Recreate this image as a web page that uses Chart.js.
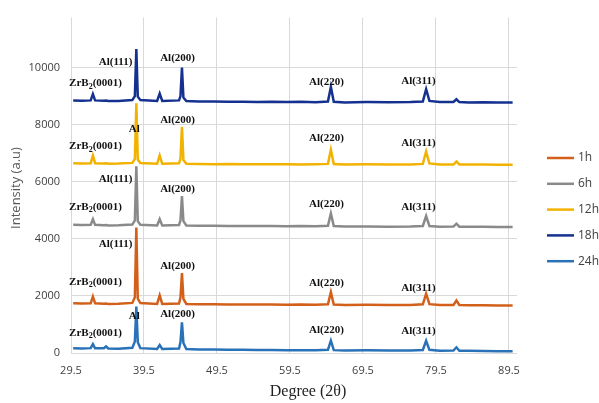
<!DOCTYPE html>
<html>
<head>
<meta charset="utf-8">
<script src="https://cdn.jsdelivr.net/npm/chart.js@4.4.1/dist/chart.umd.min.js"></script>
<style>
  body { margin: 0; background: #fff; }
  canvas { display: block; }
</style>
</head>
<body>
<canvas id="xrdChart" width="599" height="403"></canvas>
<script>
// 2θ positions shared by every pattern
const degrees = [29.8, 31, 32.2, 32.5, 32.8, 34, 34.3, 34.6, 36, 37.9,
  38.25, 38.45, 38.65, 39.0, 41.3, 41.65, 42.0, 44.3, 44.5, 44.7,
  44.9, 45.3, 47, 49, 51, 53, 55, 57, 59, 61,
  63, 64.7, 65.1, 65.5, 67, 70, 73, 76, 77.7, 78.15,
  78.6, 80, 81.9, 82.3, 82.7, 84, 86, 88, 90];

const intensity1h = [1740, 1730, 1740, 1980, 1740, 1725, 1735, 1720, 1725, 1755,
  1950, 4400, 1900, 1750, 1720, 2020, 1720, 1735, 1950, 2800,
  1900, 1720, 1710, 1705, 1700, 1702, 1695, 1700, 1690, 1695,
  1688, 1710, 2130, 1700, 1685, 1690, 1680, 1685, 1705, 2080,
  1710, 1680, 1685, 1840, 1680, 1672, 1675, 1665, 1665];
const intensity6h = [4490, 4485, 4490, 4690, 4490, 4475, 4485, 4470, 4475, 4500,
  4650, 6540, 4620, 4495, 4470, 4690, 4470, 4485, 4650, 5500,
  4620, 4470, 4460, 4455, 4450, 4452, 4445, 4448, 4440, 4445,
  4438, 4455, 4890, 4445, 4430, 4435, 4425, 4430, 4450, 4800,
  4450, 4425, 4428, 4530, 4425, 4420, 4422, 4415, 4415];
const intensity12h = [6645, 6640, 6650, 6920, 6650, 6635, 6645, 6630, 6635, 6660,
  6800, 8750, 6780, 6655, 6630, 6920, 6630, 6645, 6800, 7920,
  6760, 6630, 6620, 6615, 6620, 6610, 6615, 6610, 6612, 6605,
  6615, 6625, 7120, 6620, 6605, 6610, 6600, 6605, 6625, 7060,
  6640, 6605, 6600, 6710, 6605, 6600, 6602, 6595, 6595];
const intensity18h = [8850, 8840, 8850, 9070, 8850, 8835, 8845, 8830, 8830, 8860,
  9000, 10650, 8980, 8860, 8830, 9090, 8830, 8850, 9000, 10000,
  8950, 8830, 8815, 8810, 8800, 8805, 8795, 8800, 8790, 8800,
  8785, 8810, 9320, 8800, 8780, 8790, 8785, 8790, 8810, 9240,
  8830, 8790, 8795, 8890, 8790, 8780, 8785, 8775, 8775];
const intensity24h = [170, 160, 170, 310, 165, 170, 230, 160, 150, 180,
  400, 1630, 380, 170, 140, 280, 140, 160, 380, 1070,
  350, 140, 125, 120, 110, 112, 105, 108, 95, 100,
  92, 110, 430, 100, 90, 92, 85, 88, 105, 430,
  110, 82, 85, 200, 80, 75, 72, 65, 65];

const seriesNames = ["1h", "6h", "12h", "18h", "24h"];
const seriesValues = [intensity1h, intensity6h, intensity12h, intensity18h, intensity24h];
const seriesColors = ["#D2601A", "#8A8A8A", "#F2B200", "#14318F", "#2A72B8"];

const degreeTicks = [29.5, 39.5, 49.5, 59.5, 69.5, 79.5, 89.5];
const intensityTicks = [0, 2000, 4000, 6000, 8000, 10000];

// peak annotations: text, 2θ of label centre, intensity of label centre
const labelText = [
  "ZrB2(0001)", "Al(111)", "Al(200)", "Al(220)", "Al(311)",
  "ZrB2(0001)", "Al", "Al(200)", "Al(220)", "Al(311)",
  "ZrB2(0001)", "Al(111)", "Al(200)", "Al(220)", "Al(311)",
  "ZrB2(0001)", "Al(111)", "Al(200)", "Al(220)", "Al(311)",
  "ZrB2(0001)", "Al", "Al(200)", "Al(220)", "Al(311)"
];
const labelDeg = [
  32.86, 35.6, 44.1, 64.5, 77.1,
  32.86, 38.17, 44.1, 64.5, 77.1,
  32.86, 35.6, 44.1, 64.5, 77.1,
  32.86, 35.6, 44.1, 64.5, 77.1,
  32.86, 38.17, 44.1, 64.5, 77.1
];
const labelIntensity = [
  9436, 10190, 10330, 9495, 9518,
  7234, 7836, 8160, 7523, 7350,
  5113, 6097, 5750, 5217, 5113,
  2480, 3815, 3026, 2445, 2285,
  706, 1287, 1356, 800, 765
];

const peakLabels = {
  id: "peakLabels",
  afterDatasetsDraw(chart) {
    const { ctx, scales } = chart;
    ctx.save();
    ctx.fillStyle = "#111";
    ctx.textBaseline = "middle";
    const big = "bold 11px 'Liberation Serif', 'Times New Roman', serif";
    const small = "bold 8px 'Liberation Serif', 'Times New Roman', serif";
    labelText.forEach((txt, i) => {
      const cx = scales.x.getPixelForValue(labelDeg[i]);
      const cy = scales.y.getPixelForValue(labelIntensity[i]);
      // "ZrB2" gets a subscript 2
      const parts = txt.startsWith("ZrB2")
        ? [["ZrB", big, 0], ["2", small, 3], [txt.slice(4), big, 0]]
        : [[txt, big, 0]];
      let w = 0;
      parts.forEach(p => { ctx.font = p[1]; w += ctx.measureText(p[0]).width; });
      let x = cx - w / 2;
      ctx.textAlign = "left";
      parts.forEach(p => {
        ctx.font = p[1];
        ctx.fillText(p[0], x, cy + p[2]);
        x += ctx.measureText(p[0]).width;
      });
    });
    ctx.restore();
  }
};

// legend on the right plus both axis titles
const sideLegend = {
  id: "sideLegend",
  afterDraw(chart) {
    const { ctx } = chart;
    ctx.save();
    ctx.font = "12px 'Open Sans', sans-serif";
    ctx.textBaseline = "middle";
    ctx.fillStyle = "#404040";
    seriesNames.forEach((name, i) => {
      const y = 158 + i * 25.8;
      ctx.strokeStyle = seriesColors[i];
      ctx.lineWidth = 2.5;
      ctx.beginPath();
      ctx.moveTo(547, y);
      ctx.lineTo(574, y);
      ctx.stroke();
      ctx.fillText(name, 578, y);
    });

    ctx.textAlign = "center";
    ctx.fillStyle = "#222";
    ctx.font = "16px 'Liberation Serif', 'Times New Roman', serif";
    ctx.fillText("Degree (2θ)", 308, 392);

    ctx.fillStyle = "#595959";
    ctx.font = "13px 'Open Sans', sans-serif";
    ctx.translate(16, 188);
    ctx.rotate(-Math.PI / 2);
    ctx.fillText("Intensity (a.u)", 0, 0);
    ctx.restore();
  }
};

new Chart(document.getElementById("xrdChart"), {
  type: "line",
  data: {
    datasets: seriesNames.map((name, i) => ({
      label: name,
      data: degrees.map((d, j) => ({ x: d, y: seriesValues[i][j] })),
      borderColor: seriesColors[i],
      borderWidth: 2.5,
      pointRadius: 0,
      tension: 0
    }))
  },
  options: {
    responsive: false,
    animation: false,
    layout: { padding: { top: 15, right: 82, left: 0, bottom: 0 } },
    plugins: {
      legend: { display: false },
      tooltip: { enabled: false }
    },
    scales: {
      x: {
        type: "linear",
        min: 29.5,
        max: 90.6,
        afterBuildTicks: s => { s.ticks = degreeTicks.map(v => ({ value: v })); },
        afterFit: s => { s.height = 50; },
        grid: { color: "#D9D9D9", drawTicks: false },
        border: { display: false },
        ticks: {
          padding: 11,
          color: "#404040",
          font: { family: "'Open Sans', sans-serif", size: 11 },
          callback: v => v.toFixed(1)
        }
      },
      y: {
        min: 0,
        max: 11750,
        afterBuildTicks: s => { s.ticks = intensityTicks.map(v => ({ value: v })); },
        afterFit: s => { s.width = 71; },
        grid: { color: "#D9D9D9", drawTicks: false },
        border: { display: false },
        ticks: {
          padding: 11,
          color: "#404040",
          font: { family: "'Open Sans', sans-serif", size: 11 },
          callback: v => String(v)
        }
      }
    }
  },
  plugins: [peakLabels, sideLegend]
});
</script>
</body>
</html>
